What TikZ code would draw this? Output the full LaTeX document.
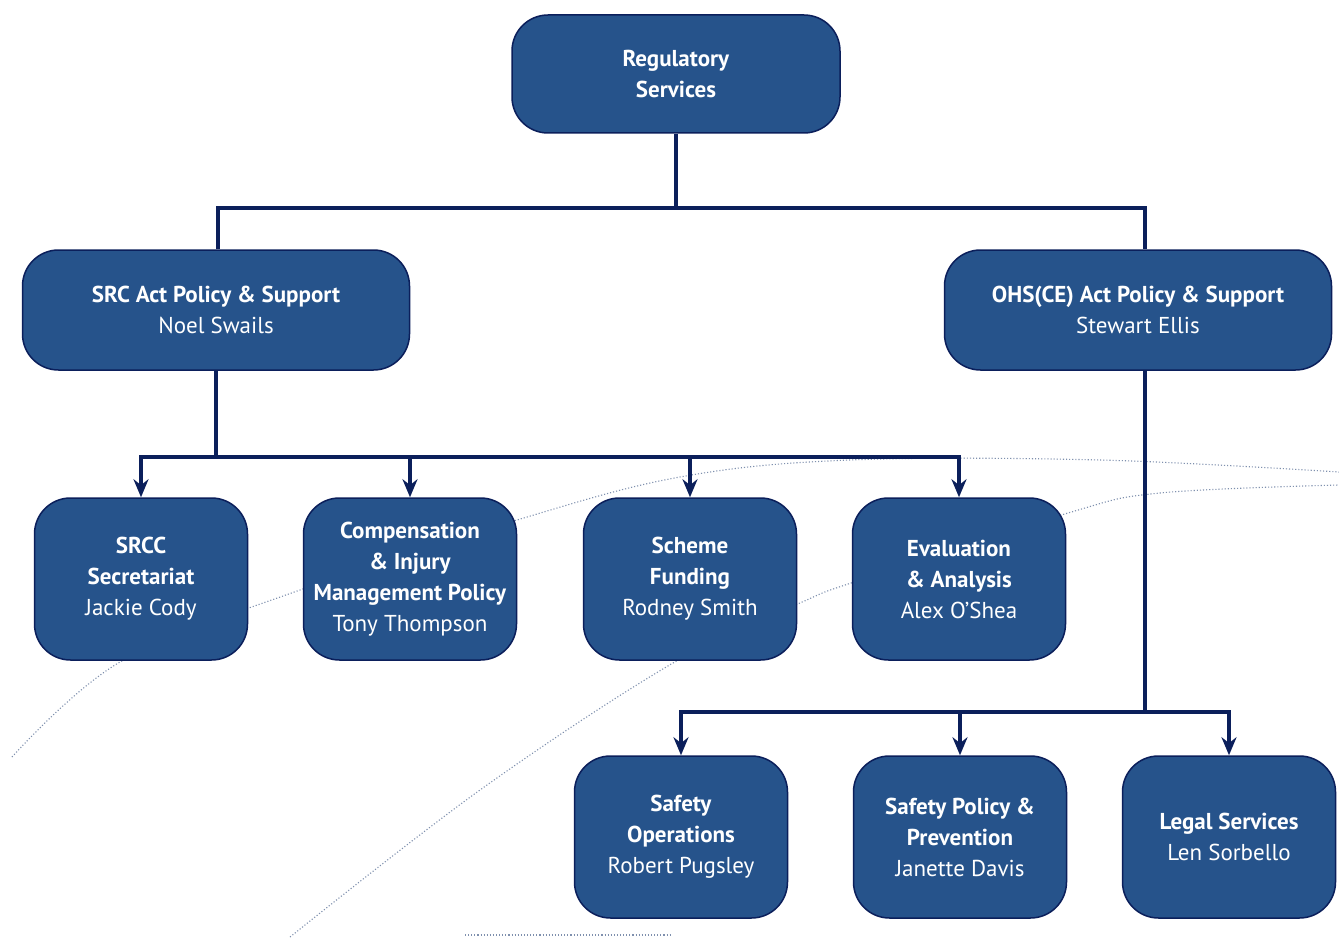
\documentclass[tikz,border=0pt]{standalone}
\usepackage{fontspec}
\setmainfont{PT Sans}
\usetikzlibrary{arrows.meta}
\definecolor{boxblue}{HTML}{26538B}
\definecolor{navy}{HTML}{0B1F5B}
\definecolor{dotcol}{HTML}{7F90AE}
\begin{document}
\begin{tikzpicture}[x=1pt,y=-1pt,
  orgbox/.style={draw=navy, line width=1.5pt, fill=boxblue, rounded corners=36pt,
    text=white, align=center, font=\fontsize{23}{31}\selectfont, inner sep=0pt},
  topbox/.style={orgbox, minimum width=328pt, minimum height=118pt},
  midbox/.style={orgbox, minimum width=387pt, minimum height=120pt},
  smallbox/.style={orgbox, minimum width=213pt, minimum height=162pt},
  link/.style={draw=navy, line width=4pt},
  arr/.style={link, -{Stealth[length=18pt,width=15pt]}},
  deco/.style={draw=dotcol, line width=1.1pt, dotted}]
\useasboundingbox[fill=white] (0,0) rectangle (1339,939);
% decorative dotted curves
\draw[deco] plot[smooth, tension=0.6] coordinates {(12,757) (120,662) (300,590) (517,520) (680,477) (850,460) (1100,460) (1339,472)};
\draw[deco] plot[smooth, tension=0.6] coordinates {(290,937) (480,790) (673,663) (800,603) (860,580) (1068,513) (1160,493) (1339,485)};
\draw[deco] (465,935) -- (670,935);
% boxes
\node[topbox] (reg) at (676,74) {\textbf{Regulatory}\\\textbf{Services}};
\node[midbox] (src) at (216,310) {\textbf{SRC Act Policy \& Support}\\Noel Swails};
\node[midbox] (ohs) at (1138,310) {\textbf{OHS(CE) Act Policy \& Support}\\Stewart Ellis};
\node[smallbox] (srcc) at (141,579) {\textbf{SRCC}\\\textbf{Secretariat}\\Jackie Cody};
\node[smallbox] (comp) at (410,579) {\textbf{Compensation}\\\textbf{\& Injury}\\\textbf{Management Policy}\\Tony Thompson};
\node[smallbox] (scheme) at (690,579) {\textbf{Scheme}\\\textbf{Funding}\\Rodney Smith};
\node[smallbox] (eval) at (959,579) {\textbf{Evaluation}\\\textbf{\& Analysis}\\Alex O'Shea};
\node[smallbox] (sops) at (681,837) {\textbf{Safety}\\\textbf{Operations}\\Robert Pugsley};
\node[smallbox] (spol) at (960,837) {\textbf{Safety Policy \&}\\\textbf{Prevention}\\Janette Davis};
\node[smallbox] (legal) at (1229,837) {\textbf{Legal Services}\\Len Sorbello};
% connectors
\coordinate (ohsn) at ([xshift=7pt]ohs.north);
\coordinate (ohss) at ([xshift=7pt]ohs.south);
\draw[link] (reg.south) -- (reg.south |- 0,208) coordinate (j1);
\draw[link] ([xshift=2pt]src.north) |- (j1) -| (ohsn);
\draw[link] (src.south) -- (src.south |- 0,457) coordinate (j2);
\foreach \n in {srcc,comp,scheme,eval} \draw[arr] (j2) -| (\n.north);
\draw[link] (ohss) -- (ohss |- 0,712) coordinate (j3);
\foreach \n in {sops,spol,legal} \draw[arr] (j3) -| (\n.north);
\end{tikzpicture}
\end{document}
